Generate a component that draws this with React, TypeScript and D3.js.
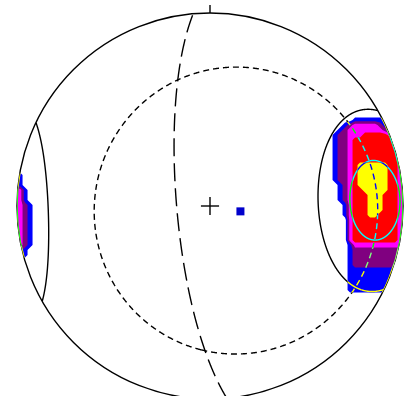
import * as d3 from 'd3';
import { useEffect, useRef } from 'react';

// --- data -------------------------------------------------------------

// small circles (cones): axis trend / plunge and half angle, degrees
const coneTrends = [88, 88, 100];
const conePlunges = [13, 15, 77];
const coneAngles = [30.3, 13.3, 63];

// great circle (plane): dip direction / dip, degrees
const planeDipDirs = [265];
const planeDips = [76];

// cone axis marker (blue square) = axis of the dashed cone
const axisTrends = [100];
const axisPlunges = [77];

// density levels read off the net, one digit per grid node
// 0 none, 1 blue, 2 purple, 3 magenta, 4 red, 5 yellow
const gridStep = 0.0259; // node spacing, net radius = 1
const eastOrigin = [0.622, 0.4715]; // first node (east, north)
const eastRows = [
  '0000000000000000',
  '0000011111111111',
  '0001233333211111',
  '0012333333321111',
  '0122333444443111',
  '0122344444444311',
  '0122344444444331',
  '0122344444444433',
  '0122344444444433',
  '0122344444444433',
  '0122345555554433',
  '0122345555554433',
  '0122345555554433',
  '0122345555554433',
  '0012345555554433',
  '0012344555554433',
  '0012344455544433',
  '0012344455544433',
  '0001344455544433',
  '0001344455544433',
  '0001344455444433',
  '0000344444444433',
  '0000344444444433',
  '0000344444444433',
  '0000344444444433',
  '0000344444444433',
  '0000133333333333',
  '0000122222222222',
  '0000122222222222',
  '0000122222222222',
  '0000122222222222',
  '0000111111111111',
  '0000111111111111',
  '0000111111111111',
  '0000111111111111',
  '0000111111111111',
  '0000000000000000',
  '0000000000000000',
];
const westOrigin = [-1.036, 0.1865];
const westRows = [
  '000000',
  '111000',
  '111000',
  '111000',
  '333100',
  '333100',
  '333100',
  '333210',
  '333210',
  '333210',
  '333210',
  '333210',
  '333210',
  '333210',
  '333210',
  '333210',
  '222100',
  '111100',
  '000000',
];

const levelColors = ['#0000ff', '#800080', '#ff00ff', '#ff0000', '#ffff00'];

// --- geometry ---------------------------------------------------------

const rad = (d) => (d * Math.PI) / 180;

// unit vector (east, north, down)
const toVec = (trend, plunge) => [
  Math.cos(rad(plunge)) * Math.sin(rad(trend)),
  Math.cos(rad(plunge)) * Math.cos(rad(trend)),
  Math.sin(rad(plunge)),
];

// lower hemisphere equal-area (Schmidt)
const project = ([e, n, d]) => {
  const k = 1 / Math.sqrt(1 + d);
  return [e * k, n * k];
};

const cross = (a, b) => [
  a[1] * b[2] - a[2] * b[1],
  a[2] * b[0] - a[0] * b[2],
  a[0] * b[1] - a[1] * b[0],
];
const unit = (v) => {
  const l = Math.hypot(v[0], v[1], v[2]);
  return v.map((c) => c / l);
};

// small circle, upper hemisphere parts flipped to their antipodes
const smallCircle = (trend, plunge, angle) => {
  const a = toVec(trend, plunge);
  const b = unit(cross(a, [0, 0, 1]));
  const c = cross(a, b);
  const ca = Math.cos(rad(angle));
  const sa = Math.sin(rad(angle));
  const segs = [];
  let cur = [];
  let prev = null;
  for (const s of d3.range(0, 360.001, 0.25)) {
    let v = [0, 1, 2].map((i) => ca * a[i] + sa * (Math.cos(rad(s)) * b[i] + Math.sin(rad(s)) * c[i]));
    const lower = v[2] >= 0;
    if (!lower) v = v.map((x) => -x);
    if (prev !== null && lower !== prev) {
      segs.push(cur);
      cur = [];
    }
    cur.push(project(v));
    prev = lower;
  }
  segs.push(cur);
  return segs.filter((s) => s.length > 1);
};

const greatCircle = (dipDir, dip) => {
  const strike = toVec(dipDir - 90, 0);
  const down = toVec(dipDir, dip);
  return d3.range(0, 180.001, 0.5).map((t) =>
    project([0, 1, 2].map((i) => Math.cos(rad(t)) * strike[i] + Math.sin(rad(t)) * down[i]))
  );
};

// --- chart ------------------------------------------------------------

const Stereonet = () => {
  const svgRef = useRef(null);

  useEffect(() => {
    const cx = 210;
    const cy = 206;
    const r = 193;
    const x = d3.scaleLinear([-1, 1], [cx - r, cx + r]);
    const y = d3.scaleLinear([-1, 1], [cy + r, cy - r]);

    const svg = d3.select(svgRef.current);
    svg.selectAll('*').remove();

    svg.append('rect').attr('width', 407).attr('height', 396).attr('fill', '#fff');

    svg.append('clipPath').attr('id', 'net')
      .append('circle').attr('cx', x(0)).attr('cy', y(0)).attr('r', x(1) - x(0));

    // density contours
    const density = svg.append('g').attr('clip-path', 'url(#net)');
    const drawGrid = (rows, origin) => {
      const nx = rows[0].length;
      const ny = rows.length;
      const values = rows.flatMap((row) => row.split('').map(Number));
      const contours = d3.contours().size([nx, ny]).thresholds([0.5, 1.5, 2.5, 3.5, 4.5])(values);
      const gx = d3.scaleLinear([0.5, 1.5], [x(origin[0]), x(origin[0] + gridStep)]);
      const gy = d3.scaleLinear([0.5, 1.5], [y(origin[1]), y(origin[1] - gridStep)]);
      const path = d3.geoPath(d3.geoTransform({
        point: function (px, py) { this.stream.point(gx(px), gy(py)); },
      }));
      density.append('g').selectAll('path')
        .data(contours)
        .join('path')
        .attr('d', path)
        .attr('fill', (d, i) => levelColors[i]);
    };
    drawGrid(eastRows, eastOrigin);
    drawGrid(westRows, westOrigin);

    // line work is drawn inverting (white + difference), like XOR pens
    const lines = svg.append('g')
      .style('mix-blend-mode', 'difference')
      .attr('fill', 'none')
      .attr('stroke', '#fff')
      .attr('stroke-width', 1.4);

    const line = d3.line().x((p) => x(p[0])).y((p) => y(p[1]));

    // primitive + north tick
    lines.append('circle').attr('cx', x(0)).attr('cy', y(0)).attr('r', x(1) - x(0));
    lines.append('line')
      .attr('x1', x(0)).attr('x2', x(0))
      .attr('y1', y(1)).attr('y2', y(1.042));

    // centre cross
    lines.append('path').attr('d', line([[-0.047, 0], [0.047, 0]]));
    lines.append('path').attr('d', line([[0, -0.047], [0, 0.047]]));

    const coneDash = [null, null, '6,4'];
    const cones = lines.append('g').attr('clip-path', 'url(#net)');
    coneTrends.forEach((t, i) => {
      smallCircle(t, conePlunges[i], coneAngles[i]).forEach((seg) => {
        cones.append('path').attr('d', line(seg)).attr('stroke-dasharray', coneDash[i]);
      });
    });

    planeDipDirs.forEach((dd, i) => {
      lines.append('path')
        .attr('d', line(greatCircle(dd, planeDips[i])))
        .attr('stroke-dasharray', '18,7');
    });

    // cone axis
    axisTrends.forEach((t, i) => {
      const p = project(toVec(t, axisPlunges[i]));
      svg.append('rect')
        .attr('x', x(p[0]) - 4).attr('y', y(p[1]) - 4)
        .attr('width', 8).attr('height', 8)
        .attr('fill', '#0000cc');
    });
  }, []);

  return (
    <svg
      ref={svgRef}
      width={407}
      height={396}
      style={{ position: 'absolute', left: 0, top: 0, display: 'block' }}
    />
  );
};

export default function App() {
  return <Stereonet />;
}
